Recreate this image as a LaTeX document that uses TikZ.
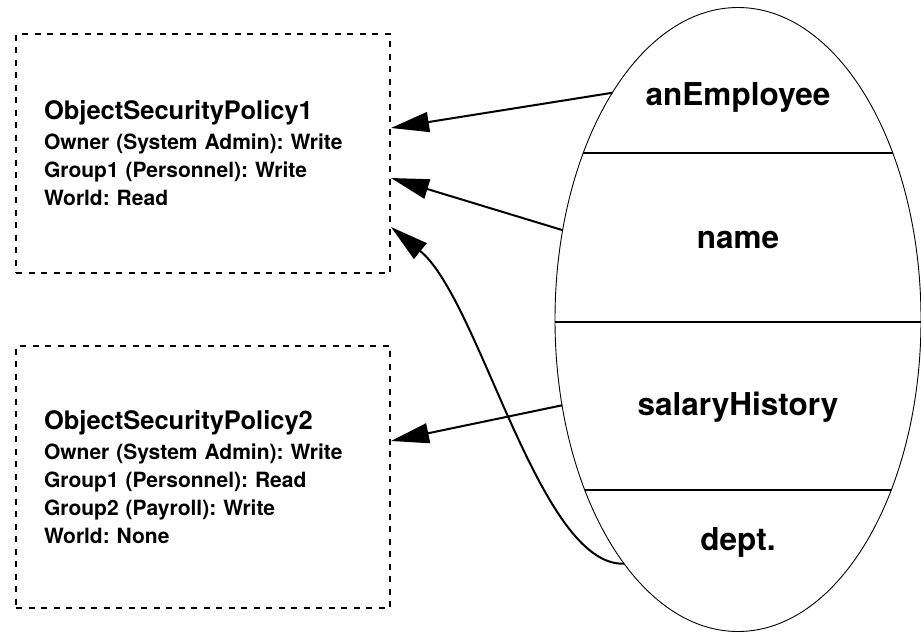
\documentclass[tikz,border=0pt]{standalone}
\usepackage{fontspec}
\setmainfont{TeX Gyre Heros}
\usetikzlibrary{arrows.meta}
\usetikzlibrary{shapes.geometric}
\frenchspacing

\begin{document}
\begin{tikzpicture}[x=1pt, y=-1pt, ->, >={Triangle[length=38pt, width=20pt]}, line width=2pt]
 % Define block styles
	\tikzstyle{policy} = [rectangle, draw, -, dash pattern=on 6pt off 6.5pt, line width=2pt, text width=318pt, inner xsep=28pt, inner ysep=0pt, minimum height=239pt, align=left, font=\bfseries\fontsize{21}{28}\selectfont]
	\tikzstyle{object} = [ellipse, draw, -, line width=0.9pt, minimum width=366pt, minimum height=624pt, inner sep=0pt, outer sep=0pt]
	\tikzstyle{slot} = [font=\bfseries\fontsize{31.5}{36}\selectfont]
	\tikzstyle{line} = [draw, ->]
	\useasboundingbox (0,0) rectangle (921,632);
%%====policies and object===============================================================
	\node	[policy]	(policy1)	at (203,153.5)	{{\fontsize{25.5}{30}\selectfont ObjectSecurityPolicy1}\\[2pt]
		Owner (System Admin): Write\\ Group1 (Personnel): Write\\ World: Read};
	\node	[policy, minimum height=262pt]	(policy2)	at (203,477)	{{\fontsize{25.5}{30}\selectfont ObjectSecurityPolicy2}\\[2pt]
		Owner (System Admin): Write\\ Group1 (Personnel): Read\\ Group2 (Payroll): Write\\ World: None\\[4pt]};
	\node	[object]	(employee)	at (738,319.5)	{};
	\begin{scope}
		\clip (employee.center) ellipse [x radius=183pt, y radius=312pt];
		\foreach \y in {153,322,490}
			\draw [-, line width=1.5pt] (555,\y) -- (921,\y);
	\end{scope}
	\node	[slot]	(anemp)		at (738,97)	{anEmployee};
	\node	[slot]	(name)		at (738,240)	{name};
	\node	[slot]	(salary)	at (738,407)	{salaryHistory};
	\node	[slot]	(dept)		at (738,542)	{dept.};
%%====arrows===============================================================
	\path [line] (employee.119.5) -- ([yshift=25.5pt]policy1.east);
	\path [line] (employee.153.8) -- ([yshift=-24.5pt]policy1.east);
	\path [line] (employee.206.8) -- ([yshift=36pt]policy2.east);
	\path [line] (employee.245) .. controls +(-85,3) and +(89,73) .. ([yshift=-73.5pt]policy1.east);
\end{tikzpicture}
\end{document}
